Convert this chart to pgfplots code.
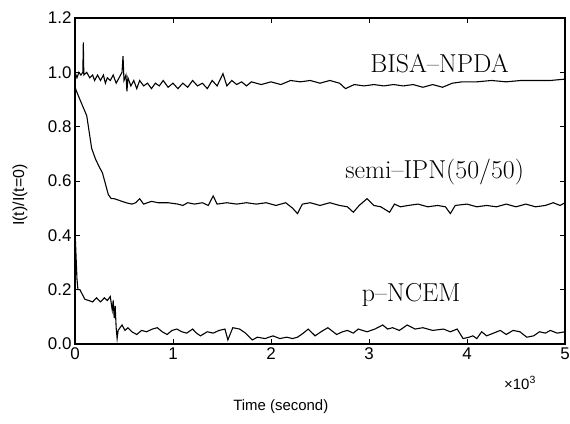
\documentclass[border=0pt]{standalone}
\usepackage{fontspec}
\setsansfont{Liberation Sans}
\usepackage{pgfplots}
\pgfplotsset{compat=1.18}
\begin{document}
\begin{tikzpicture}
\begin{axis}[
  scale only axis, width=490bp, height=326bp,
  xmin=0, xmax=5, ymin=0, ymax=1.2,
  xtick={0,1,2,3,4,5}, ytick={0,0.2,0.4,0.6,0.8,1.0,1.2},
  tick align=inside, major tick length=5bp,
  axis line style={line width=1.4pt},
  tick style={line width=0.8pt, black},
  /pgf/number format/assume math mode=true,
  ticklabel style={font=\fontsize{17}{19}\selectfont\sffamily},
  yticklabel style={/pgf/number format/.cd, fixed, fixed zerofill, precision=1},
  xticklabel style={/pgf/number format/.cd, fixed, precision=0},
  xlabel={Time (second)},
  xlabel style={font=\fontsize{15}{17}\selectfont\sffamily, at={(axis description cs:0.42,-0.193)}, anchor=center},
  ylabel={I(t)/I(t=0)},
  ylabel style={font=\fontsize{16}{18}\selectfont\sffamily, at={(axis description cs:-0.112,0.457)}, anchor=center},
  clip=true,
]
% BISA-NPDA
\addplot[black, line width=1.1pt] coordinates {
(0,1.00) (0.02,0.98) (0.04,1.00) (0.06,0.99) (0.08,1.00) (0.085,1.11) (0.09,0.99)
(0.12,1.00) (0.15,0.98) (0.18,0.99) (0.20,0.97) (0.23,0.99) (0.26,0.97) (0.29,0.99)
(0.31,0.96) (0.33,0.98) (0.36,0.97) (0.39,0.99) (0.42,0.96) (0.45,0.98) (0.48,1.00)
(0.49,1.06) (0.50,0.97) (0.52,0.99) (0.53,0.93) (0.54,0.98) (0.57,0.95) (0.60,0.97)
(0.63,0.94) (0.66,0.97) (0.70,0.95) (0.74,0.96) (0.78,0.94) (0.82,0.96) (0.86,0.95)
(0.90,0.97) (0.95,0.945) (1.00,0.96) (1.05,0.94) (1.10,0.96) (1.15,0.945) (1.20,0.97)
(1.25,0.95) (1.30,0.96) (1.35,0.94) (1.40,0.97) (1.45,0.95) (1.51,0.995) (1.55,0.95)
(1.60,0.97) (1.65,0.955) (1.70,0.965) (1.75,0.95) (1.80,0.965) (1.90,0.955) (2.00,0.965)
(2.10,0.955) (2.20,0.97) (2.30,0.965) (2.40,0.97) (2.50,0.96) (2.60,0.97) (2.70,0.96)
(2.76,0.94) (2.85,0.955) (2.95,0.95) (3.05,0.955) (3.15,0.95) (3.25,0.955) (3.35,0.95)
(3.45,0.955) (3.55,0.945) (3.65,0.955) (3.75,0.945) (3.85,0.96) (3.95,0.965) (4.10,0.965)
(4.25,0.97) (4.40,0.965) (4.55,0.97) (4.70,0.97) (4.85,0.97) (5.00,0.975)
};
% semi-IPN(50/50)
\addplot[black, line width=1.1pt] coordinates {
(0,0.95) (0.01,0.935) (0.05,0.90) (0.12,0.84) (0.17,0.72) (0.21,0.68) (0.25,0.65)
(0.28,0.63) (0.31,0.59) (0.34,0.55) (0.37,0.535) (0.40,0.535) (0.44,0.53) (0.48,0.525)
(0.52,0.52) (0.58,0.515) (0.62,0.52) (0.66,0.535) (0.70,0.515) (0.78,0.525) (0.85,0.52)
(0.95,0.52) (1.05,0.515) (1.10,0.51) (1.15,0.52) (1.22,0.515) (1.30,0.52) (1.36,0.51)
(1.41,0.545) (1.45,0.515) (1.55,0.52) (1.65,0.515) (1.75,0.52) (1.85,0.515) (1.95,0.52)
(2.05,0.51) (2.15,0.52) (2.22,0.50) (2.27,0.48) (2.32,0.515) (2.40,0.52) (2.50,0.51)
(2.60,0.52) (2.70,0.51) (2.78,0.505) (2.84,0.485) (2.90,0.51) (2.98,0.535) (3.05,0.51)
(3.12,0.505) (3.21,0.485) (3.26,0.515) (3.32,0.505) (3.40,0.51) (3.50,0.515) (3.60,0.505)
(3.70,0.51) (3.78,0.505) (3.83,0.48) (3.88,0.51) (4.00,0.515) (4.10,0.505) (4.20,0.51)
(4.30,0.505) (4.40,0.515) (4.50,0.505) (4.60,0.515) (4.70,0.505) (4.80,0.51) (4.88,0.52)
(4.95,0.51) (5.00,0.52)
};
% p-NCEM
\addplot[black, line width=1.1pt] coordinates {
(0,0.42) (0.01,0.33) (0.02,0.24) (0.03,0.20) (0.05,0.20) (0.10,0.165) (0.14,0.16)
(0.18,0.155) (0.22,0.17) (0.26,0.155) (0.30,0.17) (0.33,0.16) (0.36,0.175) (0.38,0.125)
(0.39,0.16) (0.40,0.095) (0.41,0.14) (0.42,0.06) (0.43,0.02) (0.44,0.05) (0.48,0.07)
(0.51,0.05) (0.54,0.06) (0.58,0.045) (0.63,0.035) (0.68,0.05) (0.73,0.045) (0.79,0.055)
(0.84,0.06) (0.89,0.045) (0.94,0.035) (0.99,0.05) (1.04,0.055) (1.09,0.045)
(1.14,0.04) (1.20,0.055) (1.24,0.04) (1.28,0.03) (1.35,0.045) (1.41,0.04) (1.47,0.05)
(1.53,0.055) (1.56,0.015) (1.61,0.06) (1.68,0.055) (1.74,0.04) (1.81,0.015) (1.86,0.025)
(1.94,0.02) (2.02,0.03) (2.09,0.02) (2.16,0.025) (2.22,0.02) (2.27,0.025) (2.33,0.04)
(2.38,0.055) (2.45,0.03) (2.51,0.045) (2.58,0.06) (2.67,0.035) (2.73,0.045) (2.78,0.05)
(2.84,0.04) (2.89,0.055) (2.98,0.045) (3.06,0.055) (3.14,0.07) (3.19,0.055) (3.24,0.06)
(3.31,0.05) (3.39,0.07) (3.47,0.055) (3.55,0.06) (3.65,0.05) (3.76,0.055) (3.83,0.045)
(3.90,0.055) (3.96,0.02) (4.02,0.025) (4.06,0.03) (4.10,0.02) (4.15,0.045) (4.20,0.03)
(4.27,0.04) (4.34,0.05) (4.40,0.035) (4.47,0.05) (4.54,0.045) (4.61,0.025) (4.68,0.03)
(4.74,0.045) (4.80,0.04) (4.85,0.05) (4.92,0.04) (5.00,0.045)
};
\node[font=\fontsize{26}{30}\selectfont] at (axis cs:3.72,1.034) {BISA--NPDA};
\node[font=\fontsize{26}{30}\selectfont] at (axis cs:3.67,0.633) {semi--IPN(50/50)};
\node[font=\fontsize{26}{30}\selectfont] at (axis cs:3.43,0.18) {p--NCEM};
\end{axis}
\node[font=\fontsize{15}{17}\selectfont\sffamily, anchor=center] at ([xshift=445bp,yshift=-39bp]current axis.south west) {×10\textsuperscript{3}};
\pgfresetboundingbox
\path[use as bounding box] (current axis.south west) ++(-75bp,-80bp) rectangle ++(570bp,424bp);
\end{tikzpicture}
\end{document}
